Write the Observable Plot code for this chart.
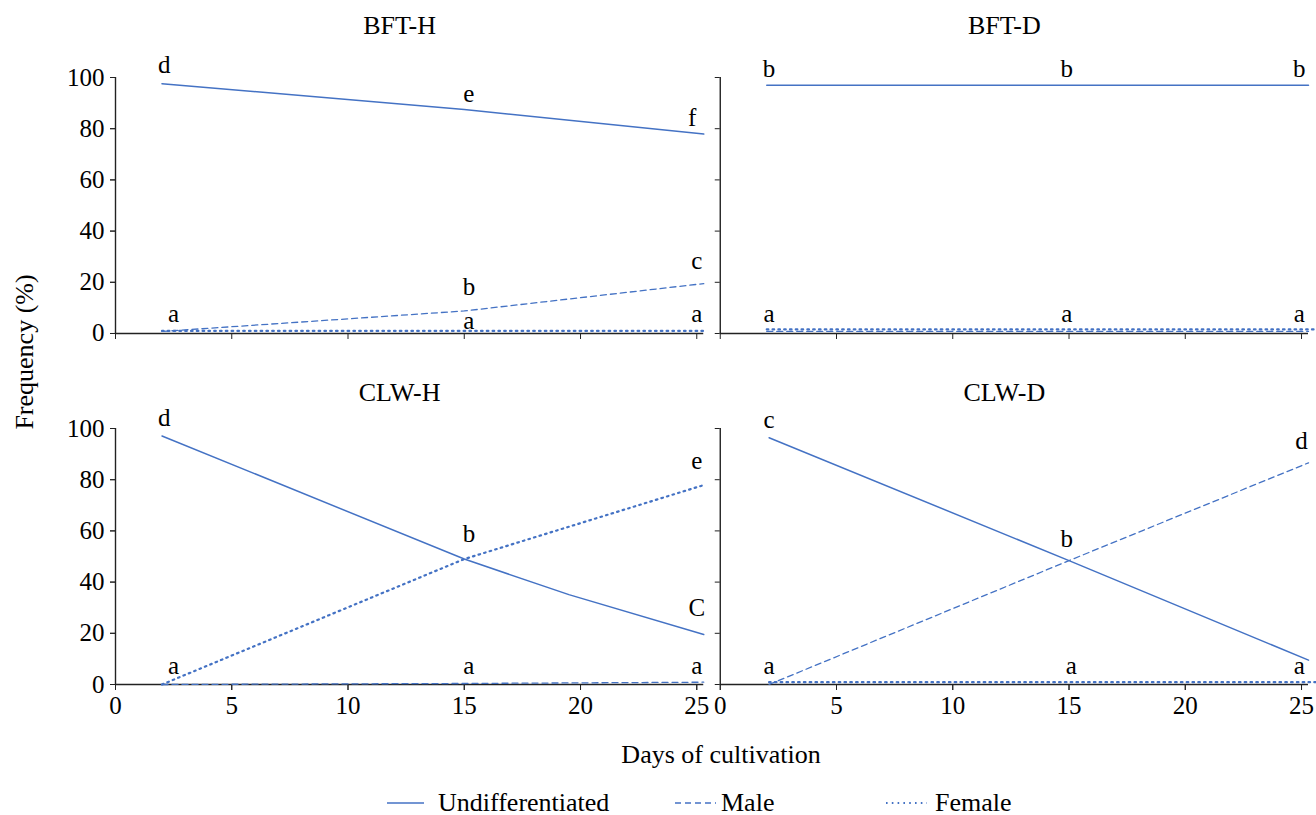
<!DOCTYPE html>
<html><head><meta charset="utf-8">
<script src="https://cdn.jsdelivr.net/npm/d3@7"></script>
<script src="https://cdn.jsdelivr.net/npm/@observablehq/plot@0.6"></script>
<style>
html,body{margin:0;padding:0;background:#fff;overflow:hidden;}
#wrap{position:relative;width:1316px;height:815px;font-family:"Liberation Serif","Times New Roman",serif;color:#000;}
#chart{position:absolute;left:0;top:0;}
#ylabel{position:absolute;left:25px;top:352px;transform:translate(-50%,-50%) rotate(-90deg);font-size:26px;white-space:nowrap;}
#xlabel{position:absolute;left:721px;top:755px;transform:translate(-50%,-50%);font-size:26px;white-space:nowrap;}
.leg{position:absolute;top:803px;transform:translateY(-50%);display:flex;align-items:center;font-size:26px;white-space:nowrap;}
.leg svg{display:block;}
</style></head>
<body>
<div id="wrap">
<div id="chart"></div>
<div id="ylabel">Frequency (%)</div>
<div id="xlabel">Days of cultivation</div>
<div id="legend"></div>
</div>
<script>
// ---- data ----
const panelNames = ["BFT-H", "BFT-D", "CLW-H", "CLW-D"];
const panelRows = ["BFT", "BFT", "CLW", "CLW"];
const panelCols = ["H", "D", "H", "D"];
const seriesNames = ["Undifferentiated", "Male", "Female"];
const xTicks = [0, 5, 10, 15, 20, 25];
const yTicks = [0, 20, 40, 60, 80, 100];

// [day, frequency %]
const bftH_undiff = [[2, 97.6], [15, 87.5], [25.3, 77.9]];
const bftH_male   = [[2, 0.8], [15, 8.8], [25.3, 19.5]];
const bftH_female = [[2, 1.0], [15, 1.0], [25.3, 1.0]];
const bftD_undiff = [[2, 97.0], [15, 97.0], [25.3, 97.0]];
const bftD_male   = [[2, 0.8], [15, 0.8], [25.3, 0.8]];
const bftD_female = [[2, 1.6], [15, 1.6], [25.7, 1.6]];
const clwH_undiff = [[2, 97.1], [15, 49.0], [19.5, 35.1], [25.3, 19.5]];
const clwH_male   = [[2, 0.0], [15, 0.4], [25.3, 0.9]];
const clwH_female = [[2, 0.0], [15, 49.0], [25.3, 77.9]];
const clwD_undiff = [[2.1, 96.4], [15, 48.4], [25.3, 9.5]];
const clwD_male   = [[2.1, 0.0], [15, 48.4], [25.3, 86.6]];
const clwD_female = [[2.1, 0.9], [15, 0.9], [25.7, 0.9]];

// significance letters: [day, frequency, letter]
const bftH_letters = [[2.1, 105, "d"], [15.2, 93.5, "e"], [24.8, 84, "f"], [25, 28.5, "c"], [15.2, 18, "b"], [2.5, 7.5, "a"], [15.2, 5, "a"], [25, 7.5, "a"]];
const bftD_letters = [[2.1, 103.5, "b"], [14.9, 103.5, "b"], [24.9, 103.5, "b"], [2.1, 7.5, "a"], [14.9, 7.5, "a"], [24.9, 7.5, "a"]];
const clwH_letters = [[2.1, 104.3, "d"], [15.2, 58.7, "b"], [25, 87.5, "e"], [25, 30, "C"], [2.5, 7.3, "a"], [15.2, 7.3, "a"], [25, 7.3, "a"]];
const clwD_letters = [[2.1, 103.5, "c"], [25, 95, "d"], [14.9, 56.8, "b"], [2.1, 7.3, "a"], [15.1, 7.3, "a"], [24.9, 7.3, "a"]];

const panelSeries = [
  [bftH_undiff, bftH_male, bftH_female],
  [bftD_undiff, bftD_male, bftD_female],
  [clwH_undiff, clwH_male, clwH_female],
  [clwD_undiff, clwD_male, clwD_female]
];
const panelLetters = [bftH_letters, bftD_letters, clwH_letters, clwD_letters];

// ---- build tables ----
const rows = [];
panelNames.forEach((p, i) => {
  panelSeries[i].forEach((pts, s) => {
    pts.forEach(([day, value]) => rows.push({panel: p, row: panelRows[i], col: panelCols[i], series: seriesNames[s], day, value}));
  });
});
const letters = [];
panelNames.forEach((p, i) => {
  panelLetters[i].forEach(([day, value, letter]) => letters.push({panel: p, row: panelRows[i], col: panelCols[i], day, value, letter}));
});
const titles = panelNames.map((p, i) => ({name: p, row: panelRows[i], col: panelCols[i]}));

const blue = "#4472c4";
const font = '"Liberation Serif","Times New Roman",serif';

const chart = Plot.plot({
  width: 1316,
  height: 731,
  marginLeft: 115,
  marginRight: 8,
  marginTop: 77,
  marginBottom: 47,
  style: {fontFamily: font, fontSize: "25px", background: "transparent", overflow: "visible", color: "#000"},
  x: {domain: [0, 25.3], label: null},
  y: {domain: [0, 100], label: null},
  fx: {domain: ["H", "D"], axis: null, paddingInner: 0.0273, paddingOuter: 0, round: false},
  fy: {domain: ["BFT", "CLW"], axis: null, paddingInner: 0.2707, paddingOuter: 0, round: false},
  marks: [
    Plot.ruleY([0], {stroke: "#222", strokeWidth: 1.4}),
    Plot.ruleX([0], {stroke: "#222", strokeWidth: 1.4}),
    Plot.axisX({ticks: xTicks, tickSize: 6, tickPadding: 6, fontSize: 25, label: null, stroke: "#222"}),
    Plot.axisX({ticks: xTicks, tickSize: 6, tickFormat: () => "", label: null, facetAnchor: null, stroke: "#222"}),
    Plot.axisY({ticks: yTicks, tickSize: 5, tickPadding: 6, fontSize: 25, label: null, stroke: "#222"}),
    Plot.axisY({ticks: yTicks, tickSize: 5, tickFormat: () => "", label: null, facetAnchor: null, stroke: "#222"}),
    Plot.line(rows.filter(d => d.series === "Male"), {x: "day", y: "value", fx: "col", fy: "row", stroke: blue, strokeWidth: 1.3, strokeDasharray: "6,4"}),
    Plot.line(rows.filter(d => d.series === "Female"), {x: "day", y: "value", fx: "col", fy: "row", stroke: blue, strokeWidth: 2.2, strokeDasharray: "1.6,4.2"}),
    Plot.line(rows.filter(d => d.series === "Undifferentiated"), {x: "day", y: "value", fx: "col", fy: "row", stroke: blue, strokeWidth: 1.5}),
    Plot.text(letters, {x: "day", y: "value", text: "letter", fx: "col", fy: "row", fontSize: 25, lineAnchor: "middle", fill: "#000"}),
    Plot.text(titles.filter(d => d.row === "BFT"), {text: "name", fx: "col", fy: "row", frameAnchor: "top", dy: -52, dx: -10, fontSize: 26, lineAnchor: "middle", fill: "#000"}),
    Plot.text(titles.filter(d => d.row === "CLW"), {text: "name", fx: "col", fy: "row", frameAnchor: "top", dy: -36, dx: -10, fontSize: 26, lineAnchor: "middle", fill: "#000"})
  ]
});
document.getElementById("chart").appendChild(chart);

// ---- legend ----
const legendItems = [
  {name: seriesNames[0], left: 387, w: 37, gap: 14, dash: null, sw: 1.5},
  {name: seriesNames[1], left: 675, w: 41, gap: 5, dash: "6,4", sw: 1.3},
  {name: seriesNames[2], left: 886, w: 41, gap: 8, dash: "1.6,4.2", sw: 2.2}
];
const legend = document.getElementById("legend");
legendItems.forEach(it => {
  const div = document.createElement("div");
  div.className = "leg";
  div.style.left = it.left + "px";
  const ns = "http://www.w3.org/2000/svg";
  const svg = document.createElementNS(ns, "svg");
  svg.setAttribute("width", it.w);
  svg.setAttribute("height", 10);
  const ln = document.createElementNS(ns, "line");
  ln.setAttribute("x1", 0); ln.setAttribute("x2", it.w);
  ln.setAttribute("y1", 5); ln.setAttribute("y2", 5);
  ln.setAttribute("stroke", blue);
  ln.setAttribute("stroke-width", it.sw);
  if (it.dash) ln.setAttribute("stroke-dasharray", it.dash);
  svg.appendChild(ln);
  const span = document.createElement("span");
  span.textContent = it.name;
  span.style.marginLeft = it.gap + "px";
  div.appendChild(svg);
  div.appendChild(span);
  legend.appendChild(div);
});
</script>
</body></html>
